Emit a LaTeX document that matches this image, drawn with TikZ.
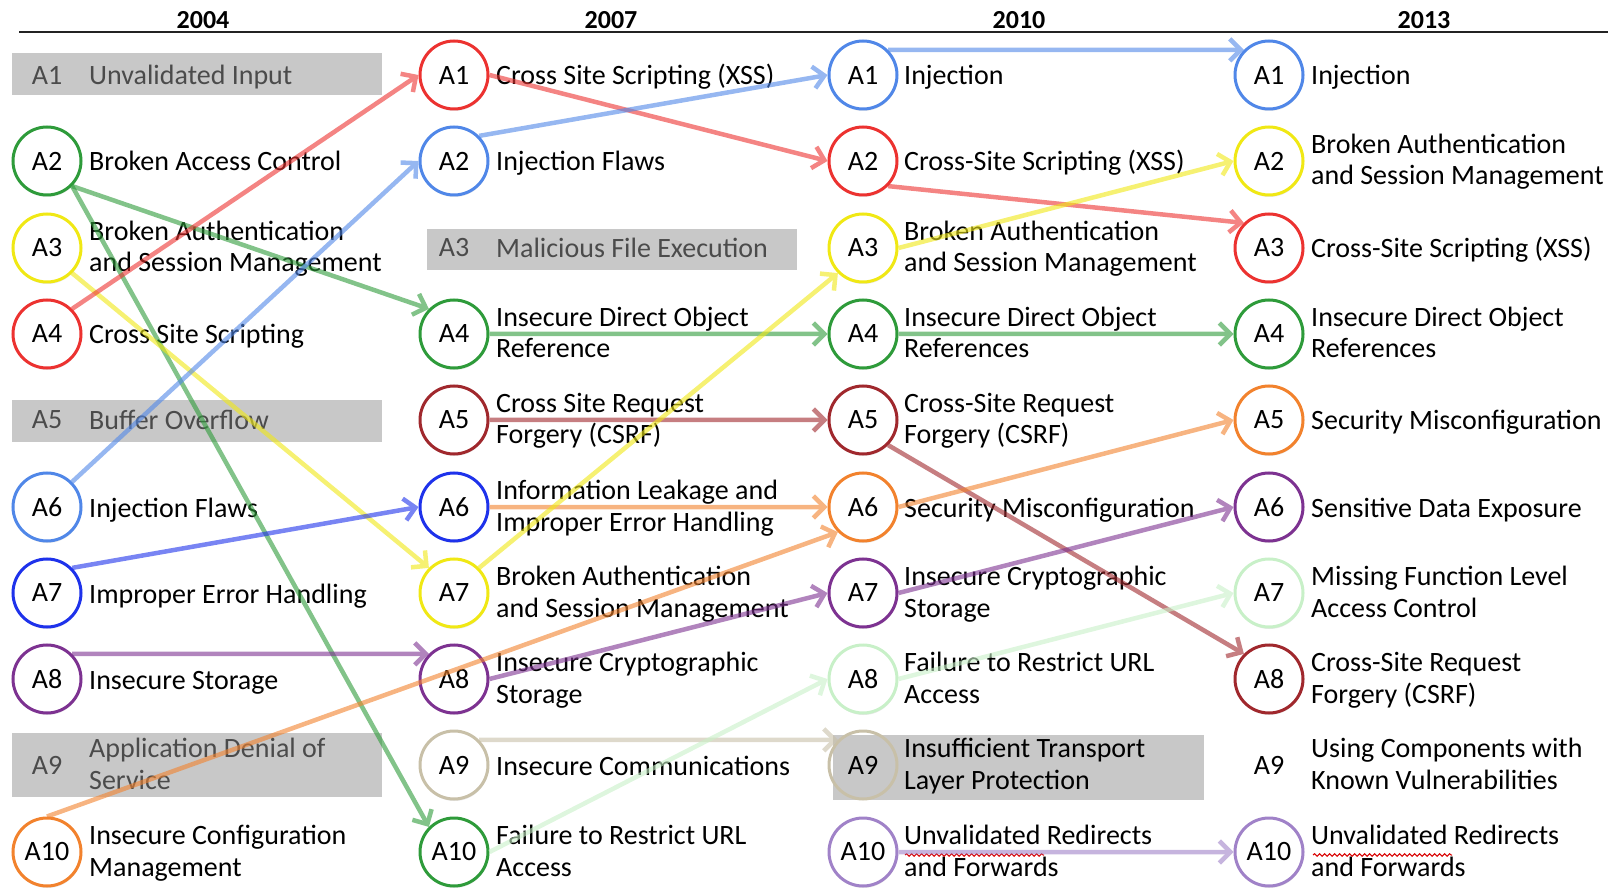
\documentclass[tikz,border=0pt]{standalone}
\usepackage{fontspec}
\setmainfont{Carlito}
\usetikzlibrary{arrows.meta,decorations.pathmorphing,shadows}

% ring colours
\definecolor{cGreen}{RGB}{46,155,58}
\definecolor{cRed}{RGB}{236,50,48}
\definecolor{cYellow}{RGB}{240,232,20}
\definecolor{cBlue}{RGB}{80,135,232}
\definecolor{cNavy}{RGB}{30,50,235}
\definecolor{cPurple}{RGB}{125,50,145}
\definecolor{cBrown}{RGB}{160,40,45}
\definecolor{cOrange}{RGB}{242,130,45}
\definecolor{cBeige}{RGB}{200,192,168}
\definecolor{cMint}{RGB}{200,240,200}
\definecolor{cLilac}{RGB}{160,130,200}
\definecolor{boxgray}{RGB}{200,200,200}
\definecolor{boxtext}{RGB}{75,75,75}
\definecolor{rulecol}{RGB}{35,35,35}

\newcommand\drawlink[3]{%
  \begin{scope}[transparency group, opacity=0.6]
    \draw[link, draw=#1] (#2) -- (#3);
  \end{scope}}

\begin{document}
\begin{tikzpicture}[x=1pt, y=-1pt,
  txt/.style={font=\fontsize{28}{31.5}\selectfont},
  ring/.style={txt, circle, draw=#1, line width=3pt, fill=white,
    minimum size=68pt, inner sep=0pt},
  shade/.style={drop shadow={opacity=0.18, shadow xshift=0.5pt, shadow yshift=-2pt}},
  bare/.style={txt, inner sep=0pt},
  desc/.style={txt, anchor=base west, align=left, inner sep=0pt},
  retired/.style={rectangle, fill=boxgray, inner sep=0pt},
  year/.style={font=\fontsize{26}{30}\selectfont\bfseries, inner sep=0pt},
  link/.style={line width=4.5pt, -{Straight Barb[length=11pt,width=22pt]}},
  squiggle/.style={draw=red!85!black, line width=1pt, decorate,
    decoration={snake, amplitude=1.3pt, segment length=5pt}}]

\useasboundingbox (0,0) rectangle (1615,890);

% year headings and rule
\node[year] (h2004) at (203,20) {2004};
\node[year] (h2007) at (611,20) {2007};
\node[year] (h2010) at (1019,20) {2010};
\node[year] (h2013) at (1424,20) {2013};
\coordinate (ruleL) at (19,32);
\coordinate (ruleR) at (1608,32);
\draw[rulecol, line width=2pt] (ruleL) -- (ruleR);

% grey bands for entries that were dropped
\node[retired, minimum width=370pt, minimum height=42pt] (ga1) at (197,74) {};
\node[retired, minimum width=370pt, minimum height=42pt] (ga5) at (197,421) {};
\node[retired, minimum width=370pt, minimum height=64pt] (ga9) at (197,765) {};
\node[retired, minimum width=370pt, minimum height=41pt] (gb3) at (612,249.5) {};
\node[retired, minimum width=371pt, minimum height=65pt] (gc9) at (1018.5,767.5) {};

% ---- 2004 ----
\node[bare, text=boxtext] (a1) at (47,75) {A1};
\node[ring=cGreen, shade]  (a2)  at (47,161) {A2};
\node[ring=cYellow, shade] (a3)  at (47,248) {A3};
\node[ring=cRed, shade]    (a4)  at (47,334) {A4};
\node[bare, text=boxtext] (a5) at (47,420) {A5};
\node[ring=cBlue, shade]   (a6)  at (47,507) {A6};
\node[ring=cNavy, shade]   (a7)  at (47,593) {A7};
\node[ring=cPurple, shade] (a8)  at (47,679) {A8};
\node[bare, text=boxtext] (a9) at (47,765) {A9};
\node[ring=cOrange, shade] (a10) at (47,852) {A10};

\node[desc, text=boxtext] (ta1) at (89,85) {Unvalidated Input};
\node[desc] (ta2) at (89,171) {Broken Access Control};
\node[desc] (ta3) at (89,272) {Broken Authentication\\and Session Management};
\node[desc] (ta4) at (89,344) {Cross Site Scripting};
\node[desc, text=boxtext] (ta5) at (89,430) {Buffer Overflow};
\node[desc] (ta6) at (89,517) {Injection Flaws};
\node[desc] (ta7) at (89,603) {Improper Error Handling};
\node[desc] (ta8) at (89,689) {Insecure Storage};
\node[desc, text=boxtext] (ta9) at (89,789) {Application Denial of\\Service};
\node[desc] (ta10) at (89,876) {Insecure Configuration\\Management};

% ---- 2007 ----
\node[ring=cRed, shade]    (b1)  at (454,75) {A1};
\node[ring=cBlue, shade]   (b2)  at (454,161) {A2};
\node[bare, text=boxtext] (b3) at (454,248) {A3};
\node[ring=cGreen, shade]  (b4)  at (454,334) {A4};
\node[ring=cBrown, shade]  (b5)  at (454,420) {A5};
\node[ring=cNavy, shade]   (b6)  at (454,507) {A6};
\node[ring=cYellow, shade] (b7)  at (454,593) {A7};
\node[ring=cPurple, shade] (b8)  at (454,679) {A8};
\node[ring=cBeige, shade]  (b9)  at (454,765) {A9};
\node[ring=cGreen, shade]  (b10) at (454,852) {A10};

\node[desc] (tb1) at (496,85) {Cross Site Scripting (XSS)};
\node[desc] (tb2) at (496,171) {Injection Flaws};
\node[desc, text=boxtext] (tb3) at (496,258) {Malicious File Execution};
\node[desc] (tb4) at (496,358) {Insecure Direct Object\\Reference};
\node[desc] (tb5) at (496,444) {Cross Site Request\\Forgery (CSRF)};
\node[desc] (tb6) at (496,531) {Information Leakage and\\Improper Error Handling};
\node[desc] (tb7) at (496,617) {Broken Authentication\\and Session Management};
\node[desc] (tb8) at (496,703) {Insecure Cryptographic\\Storage};
\node[desc] (tb9) at (496,775) {Insecure Communications};
\node[desc] (tb10) at (496,876) {Failure to Restrict URL\\Access};

% ---- 2010 ----
\node[ring=cBlue, shade]   (c1)  at (863,75) {A1};
\node[ring=cRed, shade]    (c2)  at (863,161) {A2};
\node[ring=cYellow, shade] (c3)  at (863,248) {A3};
\node[ring=cGreen, shade]  (c4)  at (863,334) {A4};
\node[ring=cBrown, shade]  (c5)  at (863,420) {A5};
\node[ring=cOrange, shade] (c6)  at (863,507) {A6};
\node[ring=cPurple, shade] (c7)  at (863,593) {A7};
\node[ring=cMint, shade]   (c8)  at (863,679) {A8};
\node[ring=cBeige, fill=none] (c9) at (863,765) {A9};
\node[ring=cLilac, shade]  (c10) at (863,852) {A10};

\node[desc] (tc1) at (904,85) {Injection};
\node[desc] (tc2) at (904,171) {Cross-Site Scripting (XSS)};
\node[desc] (tc3) at (904,272) {Broken Authentication\\and Session Management};
\node[desc] (tc4) at (904,358) {Insecure Direct Object\\References};
\node[desc] (tc5) at (904,444) {Cross-Site Request\\Forgery (CSRF)};
\node[desc] (tc6) at (904,517) {Security Misconfiguration};
\node[desc] (tc7) at (904,617) {Insecure Cryptographic\\Storage};
\node[desc] (tc8) at (904,703) {Failure to Restrict URL\\Access};
\node[desc] (tc9) at (904,789) {Insufficient Transport\\Layer Protection};
\node[desc] (tc10) at (904,876) {Unvalidated Redirects\\and Forwards};

% ---- 2013 ----
\node[ring=cBlue, shade]   (d1)  at (1269,75) {A1};
\node[ring=cYellow, shade] (d2)  at (1269,161) {A2};
\node[ring=cRed, shade]    (d3)  at (1269,248) {A3};
\node[ring=cGreen, shade]  (d4)  at (1269,334) {A4};
\node[ring=cOrange, shade] (d5)  at (1269,420) {A5};
\node[ring=cPurple, shade] (d6)  at (1269,507) {A6};
\node[ring=cMint, shade]   (d7)  at (1269,593) {A7};
\node[ring=cBrown, shade]  (d8)  at (1269,679) {A8};
\node[bare]         (d9)  at (1269,765) {A9};
\node[ring=cLilac, shade]  (d10) at (1269,852) {A10};

\node[desc] (td1) at (1311,85) {Injection};
\node[desc] (td2) at (1311,185) {Broken Authentication\\and Session Management};
\node[desc] (td3) at (1311,258) {Cross-Site Scripting (XSS)};
\node[desc] (td4) at (1311,358) {Insecure Direct Object\\References};
\node[desc] (td5) at (1311,430) {Security Misconfiguration};
\node[desc] (td6) at (1311,517) {Sensitive Data Exposure};
\node[desc] (td7) at (1311,617) {Missing Function Level\\Access Control};
\node[desc] (td8) at (1311,703) {Cross-Site Request\\Forgery (CSRF)};
\node[desc] (td9) at (1311,789) {Using Components with\\Known Vulnerabilities};
\node[desc] (td10) at (1311,876) {Unvalidated Redirects\\and Forwards};

% spell-check marks under "Unvalidated"
\draw[squiggle] (905,855) -- (1044,855);
\draw[squiggle] (1313,855) -- (1452,855);

% ---- movements 2004 -> 2007 ----
\drawlink{cGreen}{a2.south east}{b4.north west}
\drawlink{cGreen}{a2.south east}{b10.north west}
\drawlink{cYellow}{a3.south east}{b7.north west}
\drawlink{cRed}{a4.north east}{b1.west}
\drawlink{cBlue}{a6.north east}{b2.west}
\drawlink{cNavy}{a7.north east}{b6.west}
\drawlink{cPurple}{a8.north east}{b8.north west}
\drawlink{cOrange}{a10.north}{c6.south west}

% ---- movements 2007 -> 2010 ----
\drawlink{cRed}{b1.east}{c2.west}
\drawlink{cBlue}{b2.north east}{c1.west}
\drawlink{cGreen}{b4.east}{c4.west}
\drawlink{cBrown}{b5.east}{c5.west}
\drawlink{cOrange}{b6.east}{c6.west}
\drawlink{cYellow}{b7.north east}{c3.south west}
\drawlink{cPurple}{b8.east}{c7.west}
\drawlink{cBeige}{b9.north east}{c9.north west}
\drawlink{cMint}{b10.east}{c8.west}

% ---- movements 2010 -> 2013 ----
\drawlink{cBlue}{c1.north east}{d1.north west}
\drawlink{cRed}{c2.south east}{d3.north west}
\drawlink{cYellow}{c3.east}{d2.west}
\drawlink{cGreen}{c4.east}{d4.west}
\drawlink{cBrown}{c5.south east}{d8.north west}
\drawlink{cOrange}{c6.east}{d5.west}
\drawlink{cPurple}{c7.east}{d6.west}
\drawlink{cMint}{c8.east}{d7.west}
\drawlink{cLilac}{c10.east}{d10.west}

\end{tikzpicture}
\end{document}
